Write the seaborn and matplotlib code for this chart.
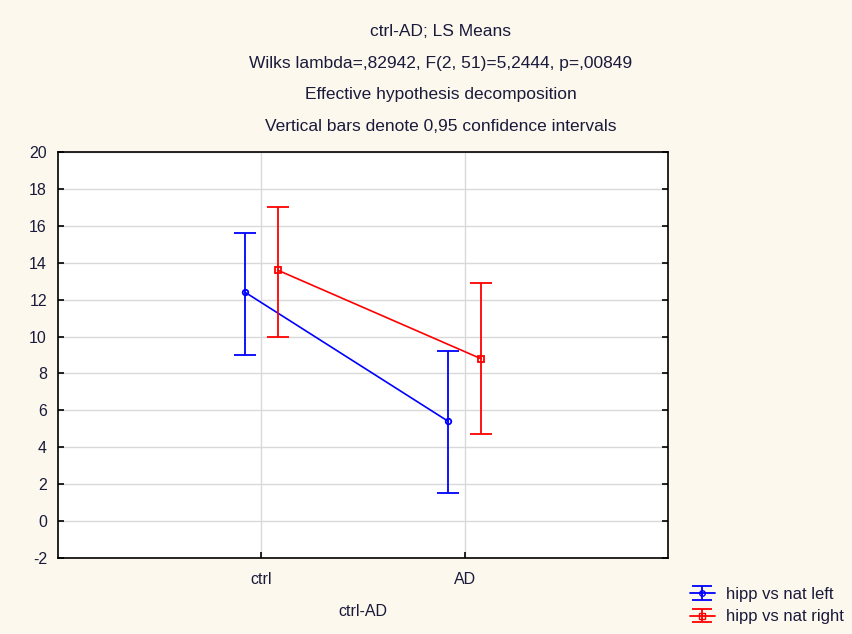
import numpy as np
import pandas as pd
import matplotlib
matplotlib.use('Agg')
import matplotlib.pyplot as plt
import seaborn as sns
from matplotlib.legend_handler import HandlerErrorbar

groups = ['ctrl', 'AD']
sides = ['hipp vs nat left', 'hipp vs nat right']
means_left = [12.4, 5.4]
lo_left = [9.0, 1.5]
hi_left = [15.6, 9.2]
means_right = [13.6, 8.8]
lo_right = [10.0, 4.7]
hi_right = [17.0, 12.9]

colors = ['#0000ff', '#ff0000']
markers = ['o', 's']
DODGE = 0.16

df = pd.DataFrame({
    'group': groups * 2,
    'side': [sides[0]] * 2 + [sides[1]] * 2,
    'mean': means_left + means_right,
    'lo': lo_left + lo_right,
    'hi': hi_left + hi_right,
})

sns.set_style('white')
plt.rcParams['font.family'] = ['Liberation Sans', 'DejaVu Sans']
plt.rcParams['axes.unicode_minus'] = False
TXT = '#1a1a3a'

BG = '#fdf8ee'
fig = plt.figure(figsize=(8.52, 6.34), dpi=100, facecolor=BG)
ax = fig.add_axes([58 / 852, 1 - 558 / 634, 610 / 852, 406 / 634])
ax.set_facecolor('white')

sns.pointplot(data=df, x='group', y='mean', hue='side', order=groups,
              hue_order=sides, palette=colors, markers=markers, dodge=DODGE,
              errorbar=None, linestyles='-', markersize=4, linewidth=1.2,
              legend=False, ax=ax)
for line, c in zip(ax.lines, colors):
    line.set_markerfacecolor('none')
    line.set_markeredgecolor(c)
    line.set_markeredgewidth(1.3)

# confidence interval bars
for i, (s, c) in enumerate(zip(sides, colors)):
    sub = df[df['side'] == s].set_index('group').loc[groups]
    xs = np.arange(len(groups)) + (i - 0.5) * DODGE
    ax.errorbar(xs, sub['mean'], yerr=[sub['mean'] - sub['lo'], sub['hi'] - sub['mean']],
                fmt='none', ecolor=c, elinewidth=1.3, capsize=8, capthick=1.3, zorder=3)

# legend handles drawn like the errorbar symbol
handles = []
for c, m in zip(colors, markers):
    h = ax.errorbar([np.nan], [np.nan], yerr=[[1], [1]], fmt='-' + m, color=c,
                    markerfacecolor='none', markersize=4, linewidth=1.3,
                    elinewidth=1.3, capsize=7, capthick=1.3)
    handles.append(h)

ax.set_xlim(-1, 2)
ax.set_ylim(-2, 20)
ax.set_yticks(np.arange(-2, 21, 2))
ax.grid(True, color='#d9d9d9', linewidth=1)
ax.set_axisbelow(True)
for sp in ax.spines.values():
    sp.set_visible(True)
    sp.set_color('black')
    sp.set_linewidth(1.2)
ax.tick_params(axis='both', direction='in', length=4, width=1.2, labelsize=11.5,
               colors='black', labelcolor=TXT)
ax.tick_params(axis='y', right=True, left=True, pad=8)
ax.tick_params(axis='x', bottom=True, top=False, pad=10)
ax.set_xlabel('ctrl-AD', fontsize=11.5, color=TXT, labelpad=12)
ax.set_ylabel('')

titles = ['ctrl-AD; LS Means',
          'Wilks lambda=,82942, F(2, 51)=5,2444, p=,00849',
          'Effective hypothesis decomposition',
          'Vertical bars denote 0,95 confidence intervals']
for k, t in enumerate(titles):
    fig.text(441 / 852, 1 - (32 + k * 31.5) / 634, t, ha='center', va='center',
             fontsize=12.5, color=TXT)

fig.legend(handles, sides, loc='lower left', bbox_to_anchor=(683 / 852, 3 / 634),
           frameon=False, fontsize=12, handlelength=1.5, handletextpad=0.7,
           labelspacing=0.45, borderaxespad=0, labelcolor=TXT,
           handler_map={type(handles[0]): HandlerErrorbar(xerr_size=0.4, yerr_size=0.4)})

fig.savefig('out.png', dpi=100, facecolor=BG)
